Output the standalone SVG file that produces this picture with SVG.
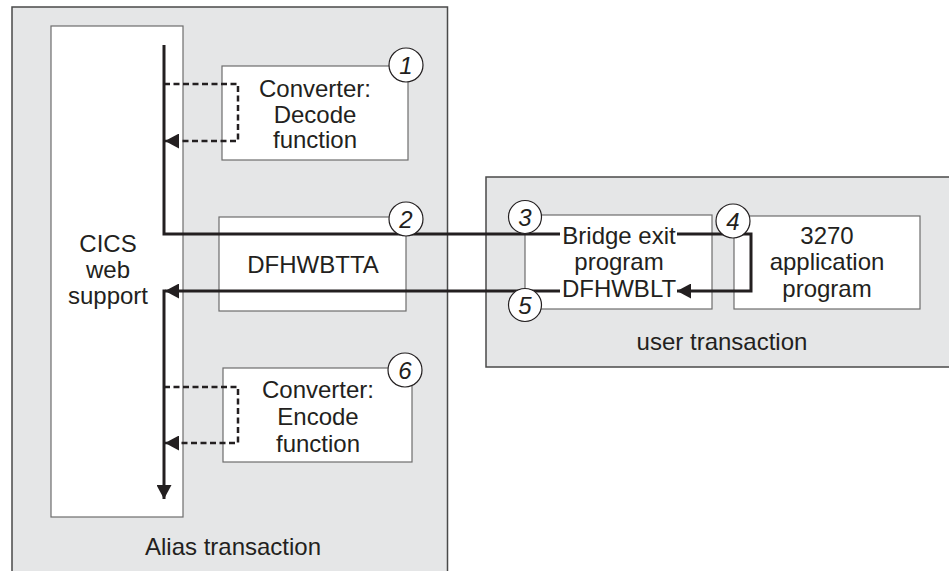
<svg xmlns="http://www.w3.org/2000/svg" width="949" height="571" viewBox="0 0 949 571">
<style>
text{font-family:"Liberation Sans",Arial,Helvetica,sans-serif;fill:#231f20;text-anchor:middle;font-size:24px}
.cont{fill:#e5e6e7;stroke:#4a4a4a;stroke-width:1.5}
.box{fill:#ffffff;stroke:#6d6d6d;stroke-width:1.2}
.num{fill:#ffffff;stroke:#231f20;stroke-width:1.2}
.dig{font-style:italic;font-size:24px}
.solid{fill:none;stroke:#231f20;stroke-width:3}
.dash{fill:none;stroke:#231f20;stroke-width:2.5;stroke-dasharray:6,3.5}
</style>
<defs>
<marker id="ah" viewBox="0 0 14 15" refX="14" refY="7.5" markerWidth="14" markerHeight="15" markerUnits="userSpaceOnUse" orient="auto">
<path d="M0,0 L14,7.5 L0,15 Z" fill="#231f20"/>
</marker>
</defs>
<g id="alias-transaction">
<rect class="cont" x="12" y="7" width="435.5" height="575"/>
<text x="233" y="555">Alias transaction</text>
</g>
<g id="user-transaction">
<rect class="cont" x="486" y="177" width="480" height="190"/>
<text x="722" y="350">user transaction</text>
</g>
<g id="cics-web-support">
<rect class="box" x="51" y="26" width="132" height="491"/>
<text x="108" y="252">CICS</text>
<text x="108" y="278">web</text>
<text x="108" y="304">support</text>
</g>
<g id="decode">
<rect class="box" x="222" y="66" width="186" height="94"/>
<text x="315" y="97">Converter:</text>
<text x="315" y="122.5">Decode</text>
<text x="315" y="148">function</text>
</g>
<g id="dfhwbtta">
<rect class="box" x="219" y="217" width="187" height="94"/>
<text x="313" y="273">DFHWBTTA</text>
</g>
<g id="encode">
<rect class="box" x="223" y="368" width="189" height="94"/>
<text x="318" y="398">Converter:</text>
<text x="318" y="425">Encode</text>
<text x="318" y="452">function</text>
</g>
<g id="bridge-exit">
<rect class="box" x="525" y="215" width="187" height="94"/>
<text x="619" y="244">Bridge exit</text>
<text x="619" y="270">program</text>
<text x="619" y="296.5">DFHWBLT</text>
</g>
<g id="app-3270">
<rect class="box" x="734" y="216" width="186" height="93"/>
<text x="827" y="244">3270</text>
<text x="827" y="270">application</text>
<text x="827" y="296.5">program</text>
</g>
<g id="connectors">
<polyline class="solid" points="164,45 164,234 560,234"/>
<polyline class="solid" points="677,234 751,234 751,291 677,291" marker-end="url(#ah)"/>
<polyline class="solid" points="560,291 165,291" marker-end="url(#ah)"/>
<polyline class="solid" points="164,289.5 164,499" marker-end="url(#ah)"/>
<polyline class="dash" points="164,84 238,84 238,141 165,141" marker-end="url(#ah)"/>
<polyline class="dash" points="164,387 238,387 238,443 165,443" marker-end="url(#ah)"/>
</g>
<g id="step-1"><circle class="num" cx="406" cy="65" r="17"/><text class="dig" x="406" y="73.5">1</text></g>
<g id="step-2"><circle class="num" cx="406" cy="219" r="17"/><text class="dig" x="406" y="227.5">2</text></g>
<g id="step-3"><circle class="num" cx="525" cy="217" r="16.5"/><text class="dig" x="525" y="225.5">3</text></g>
<g id="step-4"><circle class="num" cx="733" cy="221" r="17"/><text class="dig" x="733" y="229.5">4</text></g>
<g id="step-5"><circle class="num" cx="525" cy="305" r="16.5"/><text class="dig" x="525" y="313.5">5</text></g>
<g id="step-6"><circle class="num" cx="405" cy="370" r="17"/><text class="dig" x="405" y="378.5">6</text></g>
</svg>
